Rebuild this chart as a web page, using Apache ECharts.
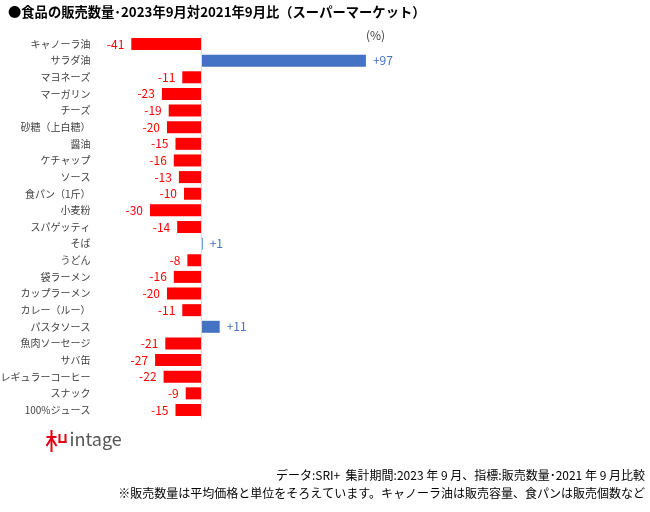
<!DOCTYPE html>
<html><head><meta charset="utf-8">
<script src="https://cdn.jsdelivr.net/npm/echarts@6/dist/echarts.min.js"></script>
<style>html,body{margin:0;padding:0;background:#fff}#c{width:650px;height:512px}</style>
</head><body><div id="c"></div>
<script>
const categories = ['キャノーラ油','サラダ油','マヨネーズ','マーガリン','チーズ','砂糖（上白糖）','醤油','ケチャップ','ソース','食パン（1斤）','小麦粉','スパゲッティ','そば','うどん','袋ラーメン','カップラーメン','カレー（ルー）','パスタソース','魚肉ソーセージ','サバ缶','レギュラーコーヒー','スナック','100%ジュース'];
const values = [-41,97,-11,-23,-19,-20,-15,-16,-13,-10,-30,-14,1,-8,-16,-20,-11,11,-21,-27,-22,-9,-15];
const titleText = '●食品の販売数量･2023年9月対2021年9月比（スーパーマーケット）';
const unitText = '(%)';
const note1 = 'データ:SRI+  集計期間:2023 年 9 月、指標:販売数量･2021 年 9 月比較';
const note2 = '※販売数量は平均価格と単位をそろえています。キャノーラ油は販売容量、食パンは販売個数など';

const RED = '#FF0000', BLUE = '#4472C4';
const FONT = '"Noto Sans CJK JP", sans-serif';
const chart = echarts.init(document.getElementById('c'));
const data = values.map(v => ({
  value: v,
  itemStyle: {color: v >= 0 ? BLUE : RED},
  label: {position: v >= 0 ? 'right' : 'left', color: v >= 0 ? BLUE : RED}
}));
chart.setOption({
  backgroundColor: '#fff',
  animation: false,
  textStyle: {fontFamily: FONT},
  grid: {left: 124.5, right: 279, top: 35.7, bottom: 93.7, containLabel: false, outerBoundsMode: 'none'},
  xAxis: {type: 'value', min: -45, max: 100, show: false},
  yAxis: {
    type: 'category', data: categories, inverse: true,
    axisLine: {show: false}, axisTick: {show: false},
    axisLabel: {color: '#404040', fontSize: 10, margin: 34, fontFamily: FONT}
  },
  series: [{
    type: 'bar', data: data, barWidth: 12,
    label: {show: true, distance: 7, fontSize: 12, fontFamily: FONT,
      formatter: p => (p.value > 0 ? '+' + p.value : String(p.value))},
    markLine: {silent: true, symbol: 'none', label: {show: false},
      lineStyle: {color: '#d9d9d9', type: 'solid', width: 1},
      data: [{xAxis: 0}]}
  }],
  graphic: [
    {type: 'text', left: 8, top: 5, style: {text: titleText, font: 'bold 13.3px ' + FONT, fill: '#000'}},
    {type: 'text', left: 366, top: 29, style: {text: unitText, font: '12px ' + FONT, fill: '#404040'}},
    {type: 'text', right: 5, top: 469, style: {text: note1, font: '12px ' + FONT, fill: '#000'}},
    {type: 'text', right: 5, top: 487, style: {text: note2, font: '12px ' + FONT, fill: '#000'}},
    {type: 'group', left: 44, top: 430, children: [
      {type: 'rect', shape: {x: 0, y: 6, width: 10, height: 2}, style: {fill: '#E60012'}},
      {type: 'rect', shape: {x: 4, y: 0, width: 2, height: 22}, style: {fill: '#E60012'}},
      {type: 'line', shape: {x1: 5, y1: 8, x2: 0, y2: 16}, style: {stroke: '#E60012', lineWidth: 2}},
      {type: 'line', shape: {x1: 5, y1: 8, x2: 10, y2: 16}, style: {stroke: '#E60012', lineWidth: 2}},
      {type: 'rect', shape: {x: 12, y: 4, width: 2, height: 9}, style: {fill: '#E60012'}},
      {type: 'rect', shape: {x: 18, y: 4, width: 2, height: 9}, style: {fill: '#E60012'}},
      {type: 'rect', shape: {x: 12, y: 11, width: 8, height: 2}, style: {fill: '#E60012'}},
      {type: 'text', x: 23, y: 0, style: {text: 'intage', font: '18px ' + FONT, fill: '#555'}}
    ]}
  ]
});
</script></body></html>
